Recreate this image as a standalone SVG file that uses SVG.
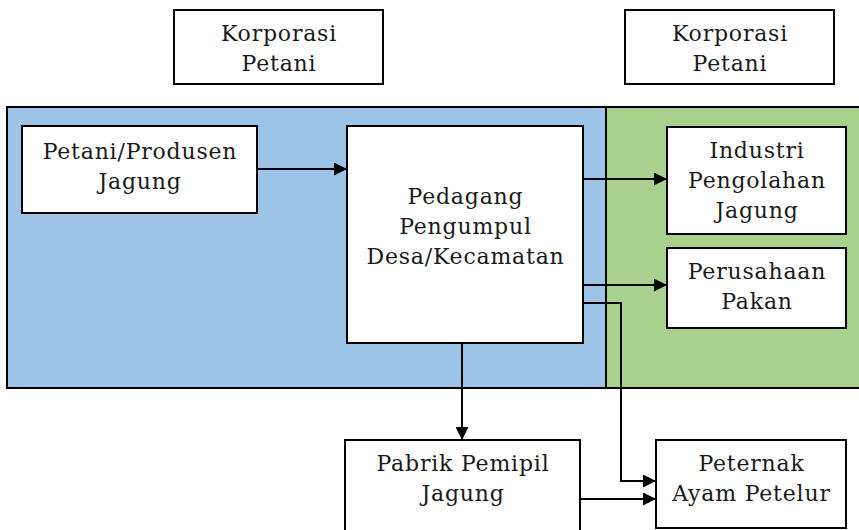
<svg xmlns="http://www.w3.org/2000/svg" width="859" height="530" viewBox="0 0 859 530">
<style>
.box{fill:#fff;stroke:#000;stroke-width:2}
.t{font-family:"DejaVu Serif","Liberation Serif",serif;font-size:22px;letter-spacing:0.8px;fill:#1a1a1a;text-anchor:middle}
.c{fill:none;stroke:#000;stroke-width:2}
</style>
<defs>
<marker id="ah" viewBox="0 0 10 10" refX="10" refY="5" markerWidth="13" markerHeight="13" markerUnits="userSpaceOnUse" orient="auto">
<path d="M0,0 L10,5 L0,10 z" fill="#000"/>
</marker>
</defs>
<g id="regions">
<rect x="7" y="107" width="599" height="281" fill="#9dc3e6" stroke="#000" stroke-width="2"/>
<rect x="606" y="107" width="260" height="281" fill="#a9d18e" stroke="#000" stroke-width="2"/>
</g>
<g id="korporasi1"><rect class="box" x="174" y="10" width="209" height="74"/><text class="t" x="279" y="41">Korporasi</text><text class="t" x="279" y="71">Petani</text></g>
<g id="korporasi2"><rect class="box" x="625" y="10" width="209" height="74"/><text class="t" x="730" y="41">Korporasi</text><text class="t" x="730" y="71">Petani</text></g>
<g id="petani"><rect class="box" x="22" y="126" width="235" height="87"/><text class="t" x="140" y="159">Petani/Produsen</text><text class="t" x="140" y="189">Jagung</text></g>
<g id="pedagang"><rect class="box" x="347" y="126" width="236" height="217"/><text class="t" x="465.5" y="204">Pedagang</text><text class="t" x="465.5" y="234">Pengumpul</text><text class="t" x="465.5" y="264">Desa/Kecamatan</text></g>
<g id="industri"><rect class="box" x="667" y="127" width="179" height="107"/><text class="t" x="757" y="158">Industri</text><text class="t" x="757" y="188">Pengolahan</text><text class="t" x="757" y="218">Jagung</text></g>
<g id="perusahaan"><rect class="box" x="667" y="248" width="179" height="80"/><text class="t" x="757" y="279">Perusahaan</text><text class="t" x="757" y="309">Pakan</text></g>
<g id="pabrik"><rect class="box" x="345" y="440" width="235" height="95"/><text class="t" x="463" y="471">Pabrik Pemipil</text><text class="t" x="463" y="501">Jagung</text></g>
<g id="peternak"><rect class="box" x="656" y="440" width="190" height="88"/><text class="t" x="751.5" y="471">Peternak</text><text class="t" x="751.5" y="501">Ayam Petelur</text></g>
<g id="connectors">
<line class="c" x1="257" y1="169" x2="347" y2="169" marker-end="url(#ah)"/>
<line class="c" x1="583" y1="179" x2="667" y2="179" marker-end="url(#ah)"/>
<line class="c" x1="583" y1="285" x2="667" y2="285" marker-end="url(#ah)"/>
<polyline class="c" points="583,303 621,303 621,481 656,481" marker-end="url(#ah)"/>
<line class="c" x1="462" y1="343" x2="462" y2="440" marker-end="url(#ah)"/>
<line class="c" x1="580" y1="499" x2="656" y2="499" marker-end="url(#ah)"/>
</g>
</svg>
